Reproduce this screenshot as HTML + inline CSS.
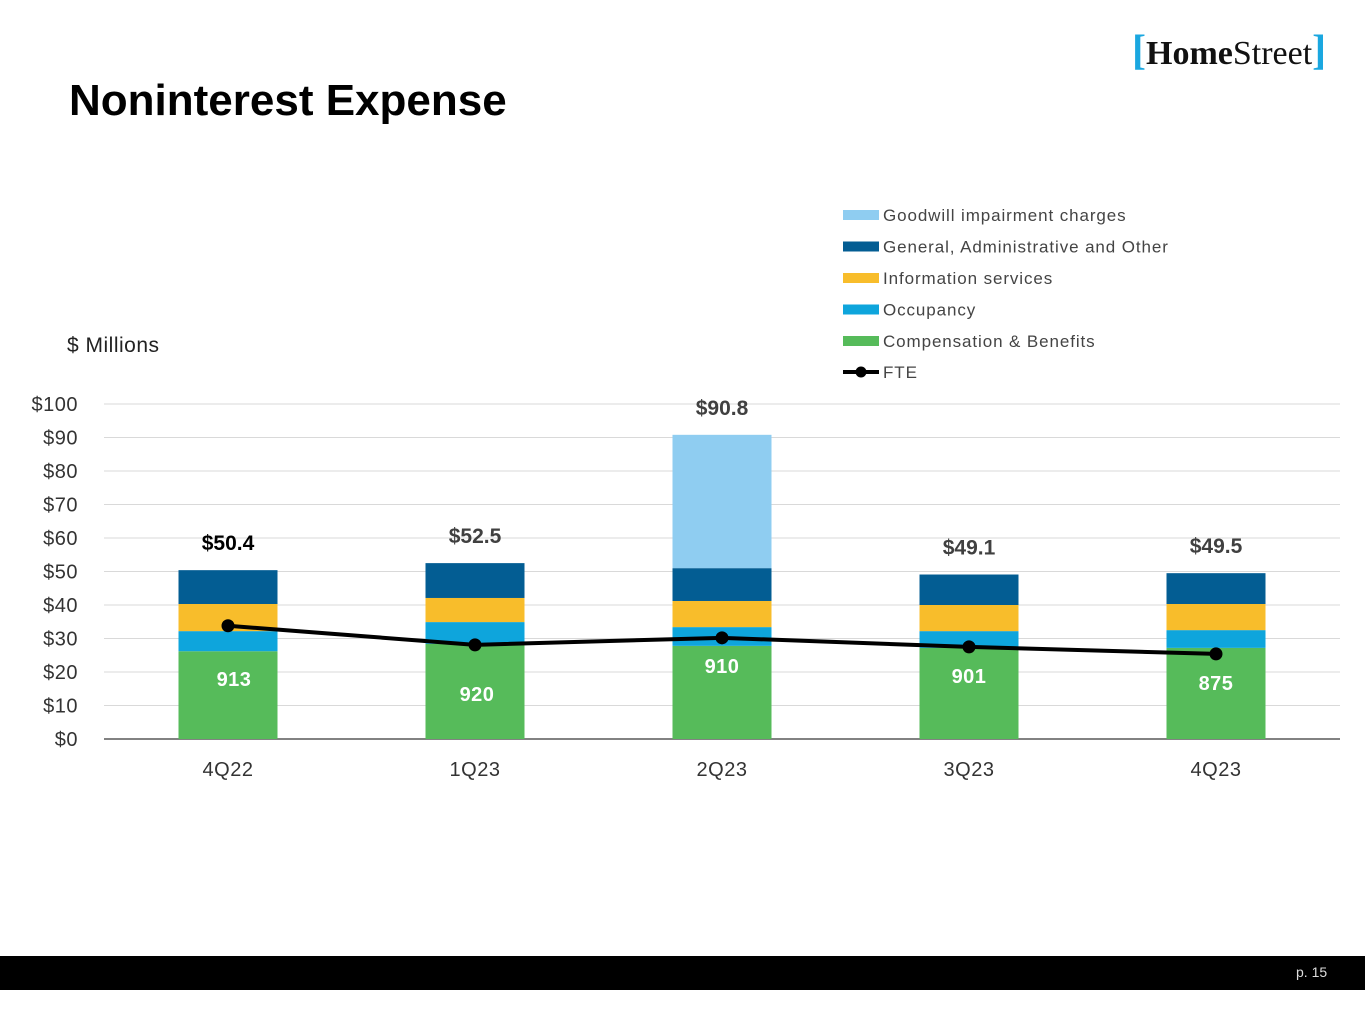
<!DOCTYPE html>
<html><head><meta charset="utf-8"><style>
body{margin:0;width:1365px;height:1024px;background:#fff;position:relative;overflow:hidden;font-family:"Liberation Sans",sans-serif}
.t{position:absolute}
</style></head><body>
<div class="t" style="left:69px;top:76px;font-size:44px;font-weight:bold;color:#000">Noninterest Expense</div>
<div class="t" style="left:1132px;top:30px;height:42px;font-family:'Liberation Serif',serif;font-size:34px;color:#111;line-height:42px;white-space:nowrap"><span style="color:#1aa7e0;font-weight:bold;font-size:42px">[</span><b>Home</b>Street<span style="color:#1aa7e0;font-weight:bold;font-size:42px">]</span></div>
<div class="t" style="left:67px;top:334px;font-size:21px;color:#222;letter-spacing:0.5px">$ Millions</div>
<svg class="t" style="left:0;top:0" width="1365" height="1024" id="chart"></svg>
<div class="t" style="left:0;top:956px;width:1365px;height:34px;background:#000"></div>
<div class="t" style="left:1296px;top:964px;font-size:14px;color:#ddd">p. 15</div>
<script>
const categories=["4Q22","1Q23","2Q23","3Q23","4Q23"];
const compensation=[26.2,28.4,27.8,27.2,27.2];
const occupancy=[6.0,6.5,5.6,5.0,5.3];
const infoServices=[8.1,7.2,7.8,7.8,7.8];
const generalAdmin=[10.1,10.4,9.8,9.1,9.2];
const goodwill=[0,0,39.8,0,0];
const totals=["$50.4","$52.5","$90.8","$49.1","$49.5"];
const fteLabels=["913","920","910","901","875"];
const fteLine=[33.8,28.1,30.2,27.5,25.4];
const yTicks=[0,10,20,30,40,50,60,70,80,90,100];
const NS="http://www.w3.org/2000/svg";
const svg=document.getElementById("chart");
const y0=739,pxPer=3.35,x0=228,step=247,bw=99;
const Y=v=>y0-v*pxPer, X=i=>x0+i*step;
function mk(tag,attrs,txt){const e=document.createElementNS(NS,tag);for(const k in attrs)e.setAttribute(k,attrs[k]);if(txt!==undefined)e.textContent=txt;svg.appendChild(e);return e;}
yTicks.forEach(v=>{
 const g=mk("line",{x1:104,x2:1340,y1:Y(v),y2:Y(v),stroke:v?"#d9d9d9":"#595959","stroke-width":v?1:1.5});
 
 
 const t=mk("text",{x:78,y:Y(v)+7,"text-anchor":"end","font-size":20,fill:"#333","letter-spacing":0.5},"$"+v);
 
 
});
const series=[[compensation,"#56bb5a"],[occupancy,"#0ea5dc"],[infoServices,"#f8bd2b"],[generalAdmin,"#035d93"],[goodwill,"#8fcdf1"]];
categories.forEach((c,i)=>{
 let base=0;
 series.forEach(([arr,col])=>{
  if(arr[i]>0){const r=mk("rect",{x:X(i)-bw/2,y:Y(base+arr[i]),width:bw,height:arr[i]*pxPer,fill:col});
  
  }
  base+=arr[i];
 });
 const tl=mk("text",{x:X(i),y:Y(base)-20,"text-anchor":"middle","font-size":21,"font-weight":"bold",fill:i==0?"#000":"#404040"},totals[i]);
 
 
 const xl=mk("text",{x:X(i),y:776,"text-anchor":"middle","font-size":20,fill:"#333","letter-spacing":0.5},c);
 
 
});
const pts=fteLine.map((v,i)=>X(i)+","+Y(v)).join(" ");
const pl=mk("polyline",{points:pts,fill:"none",stroke:"#000","stroke-width":4});


const fteOff=[53,49,28,29,29];
fteLine.forEach((v,i)=>{
 const c=mk("circle",{cx:X(i),cy:Y(v),r:6.5,fill:"#000"});
 
 
 const t=mk("text",{x:X(i)+(i==0?6:i==1?2:0),y:Y(v)+fteOff[i]+7,"text-anchor":"middle","font-size":20,"font-weight":"bold",fill:"#fff","letter-spacing":0.5},fteLabels[i]);
 
 
});
const legend=[["Goodwill impairment charges","#8fcdf1"],["General, Administrative and Other","#035d93"],["Information services","#f8bd2b"],["Occupancy","#0ea5dc"],["Compensation & Benefits","#56bb5a"]];
legend.forEach(([n,col],k)=>{
 const yy=215+k*31.5;
 const r=mk("rect",{x:843,y:yy-5,width:36,height:10,fill:col});
 
 
 const t=mk("text",{x:883,y:yy+6,"font-size":17,fill:"#444","letter-spacing":0.9},n);
 
 
});
const ll=mk("line",{x1:843,x2:879,y1:372,y2:372,stroke:"#000","stroke-width":4});


const lc=mk("circle",{cx:861,cy:372,r:5.5,fill:"#000"});


const lt=mk("text",{x:883,y:378,"font-size":17,fill:"#444","letter-spacing":0.9},"FTE");


</script>
</body></html>
